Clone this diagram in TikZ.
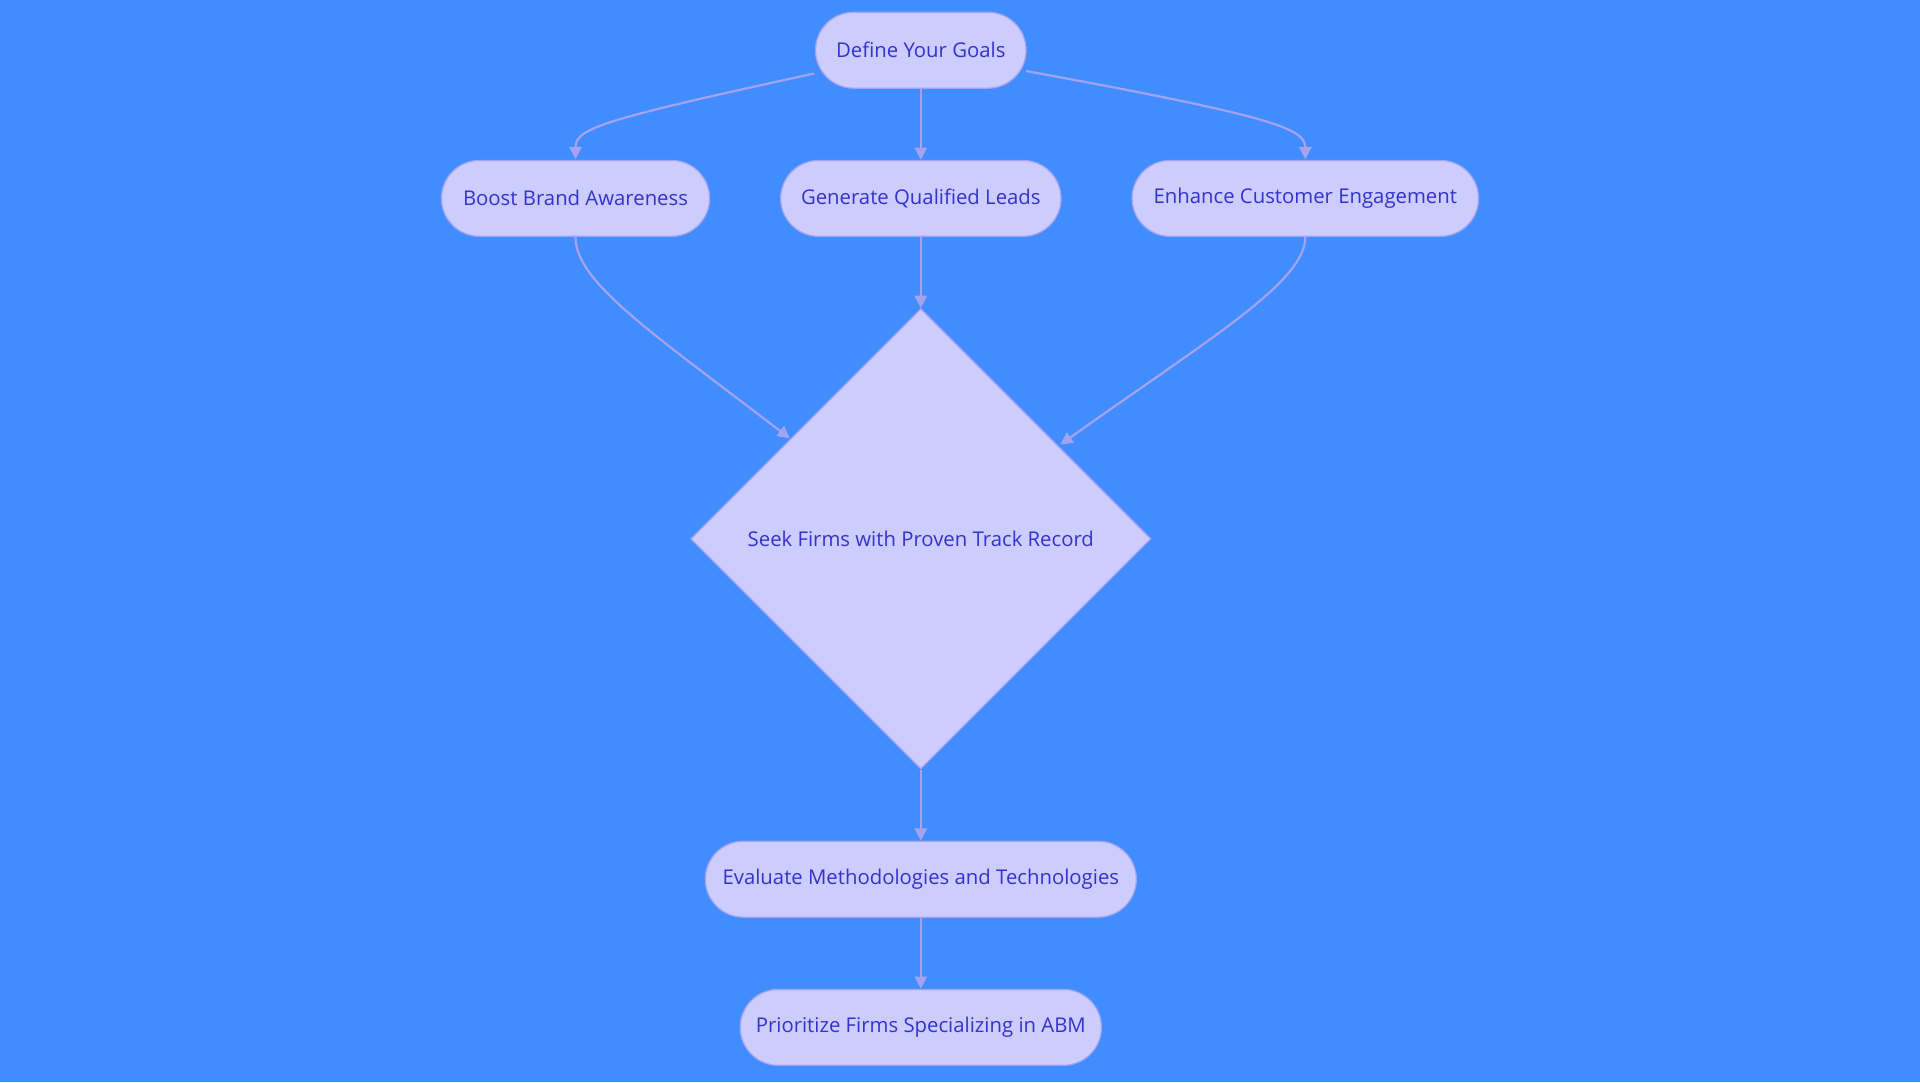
\documentclass[tikz,border=0pt]{standalone}
\usepackage{fontspec}
\setmainfont{Open Sans}
\usetikzlibrary{shapes.geometric,arrows.meta}
\definecolor{bg}{HTML}{418CFF}
\definecolor{nf}{HTML}{CCCCFF}
\definecolor{nd}{HTML}{A3A3F0}
\definecolor{tx}{HTML}{3333CC}
\begin{document}
\begin{tikzpicture}[x=0.5pt,y=-0.5pt,
 box/.style={draw=nd,fill=nf,text=tx,rounded corners=15.5pt,minimum height=31pt,font=\fontsize{8.3pt}{10pt}\selectfont,inner sep=0pt,line width=0.5pt},
 arr/.style={draw=nd,line width=0.9pt,-{Triangle[length=5pt,width=5pt]}}]
\fill[bg] (0,0) rectangle (1568,884);
\useasboundingbox (0,0) rectangle (1568,884);
\node[box,minimum width=86pt] (def) at (752,41) {Define Your Goals};
\node[box,minimum width=109.5pt] (boost) at (470,162) {Boost Brand Awareness};
\node[box,minimum width=114.5pt] (gen) at (752,162) {Generate Qualified Leads};
\node[box,minimum width=141.5pt] (enh) at (1066,162) {Enhance Customer Engagement};
\node[draw=nd,fill=nf,text=tx,diamond,minimum width=188pt,minimum height=188pt,inner sep=0pt,font=\fontsize{8.3pt}{10pt}\selectfont,line width=0.5pt] (dia) at (752,440) {Seek Firms with Proven Track Record};
\node[box,minimum width=176pt] (eval) at (752,718) {Evaluate Methodologies and Technologies};
\node[box,minimum width=147.5pt] (prio) at (752,839) {Prioritize Firms Specializing in ABM};
\coordinate (e1) at (470,130);
\coordinate (e2) at (1066,130);
\coordinate (e3) at (645,358);
\coordinate (e4) at (866,363);
\coordinate (s1) at (665,60);
\coordinate (s2) at (838,58);
\draw[arr] (s1) .. controls (490,98) and (470,105) .. (e1);
\draw[arr] (s2) .. controls (1040,95) and (1066,105) .. (e2);
\draw[arr] (def) -- (gen);
\draw[arr] (boost.south) .. controls (470,230) and (530,270) .. (e3);
\draw[arr] (enh.south) .. controls (1066,230) and (990,275) .. (e4);
\draw[arr] (gen) -- (dia.north);
\draw[arr] (dia.south) -- (eval);
\draw[arr] (eval) -- (prio);
\end{tikzpicture}
\end{document}
